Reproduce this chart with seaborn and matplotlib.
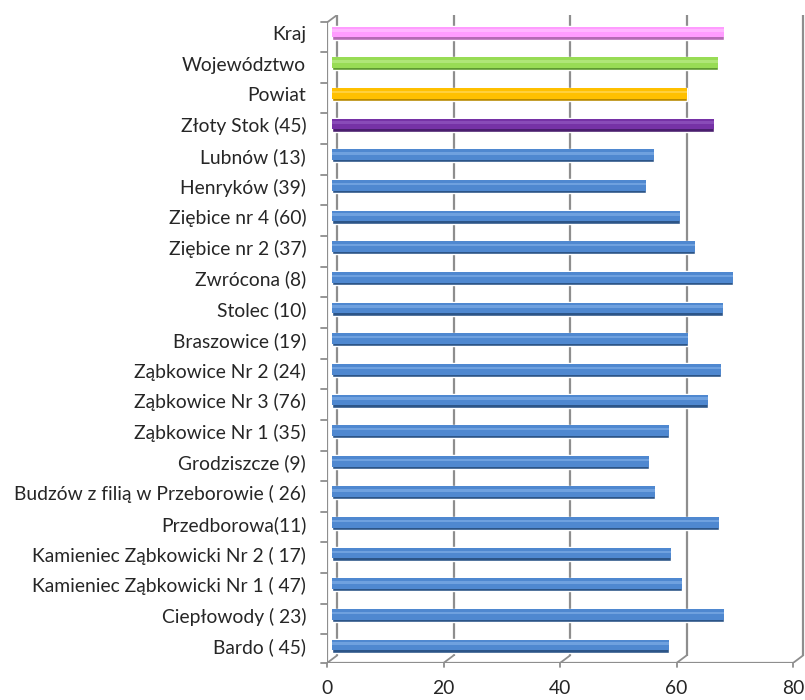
import numpy as np
import pandas as pd
import matplotlib
matplotlib.use("Agg")
import matplotlib.pyplot as plt
import seaborn as sns

# data (top to bottom)
labels = ["Kraj", "Województwo", "Powiat", "Złoty Stok (45)", "Lubnów (13)",
          "Henryków (39)", "Ziębice nr 4 (60)", "Ziębice nr 2 (37)", "Zwrócona (8)",
          "Stolec (10)", "Braszowice (19)", "Ząbkowice Nr 2 (24)", "Ząbkowice Nr 3 (76)",
          "Ząbkowice Nr 1 (35)", "Grodziszcze (9)", "Budzów z filią w Przeborowie ( 26)",
          "Przedborowa(11)", "Kamieniec Ząbkowicki Nr 2 ( 17)",
          "Kamieniec Ząbkowicki Nr 1 ( 47)", "Ciepłowody ( 23)", "Bardo ( 45)"]
values = [67.3, 66.3, 61.0, 65.5, 55.2, 53.9, 59.7, 62.3, 68.8, 67.2, 61.2,
          66.8, 64.5, 57.9, 54.4, 55.5, 66.5, 58.2, 60.0, 67.3, 57.9]
kinds = ["kraj", "woj", "powiat", "gmina"] + ["school"] * 17
x_ticks = [0, 20, 40, 60, 80]

base = {"kraj": "#FF9CFF", "woj": "#98DC55", "powiat": "#FFC000",
        "gmina": "#7632A6", "school": "#4F88D0"}
dark = {"kraj": "#B46AB4", "woj": "#5E9A30", "powiat": "#B88A00",
        "gmina": "#4A1E6E", "school": "#2C5588"}
light = {"kraj": "#FFCCFF", "woj": "#C2F096", "powiat": "#FFDF70",
         "gmina": "#9A60C8", "school": "#8AB6EC"}

df = pd.DataFrame({"label": labels, "value": values, "kind": kinds})

sns.set_style("white")
plt.rcParams["font.family"] = ["Lato", "DejaVu Sans"]

fig = plt.figure(figsize=(8.05, 7.0), dpi=100)
ax = fig.add_axes([327 / 805, 37 / 700, 478 / 805, 648 / 700])

# 3D-ish depth offsets (front / back of the Excel box)
dx = 0.86
dy = 7.5 / 30.65
n = len(labels)
y_top, y_bot = -0.587, n - 1 + 0.555
grid_col = "#8E8E8E"

# back wall gridlines + floor slants
for v in x_ticks:
    ax.plot([v + dx, v + dx], [y_top, y_bot - dy], color=grid_col, lw=1.6, zorder=1,
            solid_capstyle="butt")
    ax.plot([v + dx, v - dx], [y_bot - dy, y_bot], color=grid_col, lw=1.3, zorder=1)
    ax.plot([v - dx, v - dx], [y_bot, y_bot + 0.12], color=grid_col, lw=1.3, zorder=1,
            clip_on=False)
# front floor edge and left wall
ax.plot([-dx, 80 - dx], [y_bot, y_bot], color=grid_col, lw=1.6, zorder=1)
ax.plot([-dx, -dx], [y_top + dy, y_bot], color=grid_col, lw=1.6, zorder=1)
ax.plot([-dx, dx], [y_top + dy, y_top], color=grid_col, lw=1.3, zorder=1)
for k in range(1, n):
    yk = k - 0.5 + dy * 0.5
    ax.plot([-dx - 1.0, -dx], [yk, yk], color=grid_col, lw=1.3, zorder=1, clip_on=False)
ax.plot([-dx - 1.0, -dx], [y_bot, y_bot], color=grid_col, lw=1.3, zorder=1, clip_on=False)
ax.plot([-dx - 1.0, -dx], [y_top + dy, y_top + dy], color=grid_col, lw=1.3, zorder=1,
        clip_on=False)

# bars: dark body, main colour, highlight stripe -> cylinder look
sns.barplot(data=df, x="value", y="label", hue="label", orient="h",
            palette=[dark[k] for k in kinds], width=0.44, legend=False,
            ax=ax, zorder=3, saturation=1)
ypos = np.arange(n)
ax.barh(ypos - 0.03, df["value"], height=0.35, left=0,
        color=[base[k] for k in kinds], zorder=4, linewidth=0)
ax.barh(ypos - 0.075, df["value"], height=0.08, left=0,
        color=[light[k] for k in kinds], zorder=5, linewidth=0, alpha=0.55)

ax.set_xlim(-dx, 81.2)
ax.set_ylim(y_bot, y_top)
for s in ax.spines.values():
    s.set_visible(False)

ax.set_xticks([v - dx for v in x_ticks])
ax.set_xticklabels([str(v) for v in x_ticks], fontsize=13.9)
ax.tick_params(axis="x", length=0, pad=12)
ax.set_yticks(ypos)
ax.set_yticklabels(labels, fontsize=13.9)
ax.tick_params(axis="y", length=0, pad=15)
ax.set_xlabel("")
ax.set_ylabel("")
ax.grid(False)

fig.savefig("out.png", dpi=100)
